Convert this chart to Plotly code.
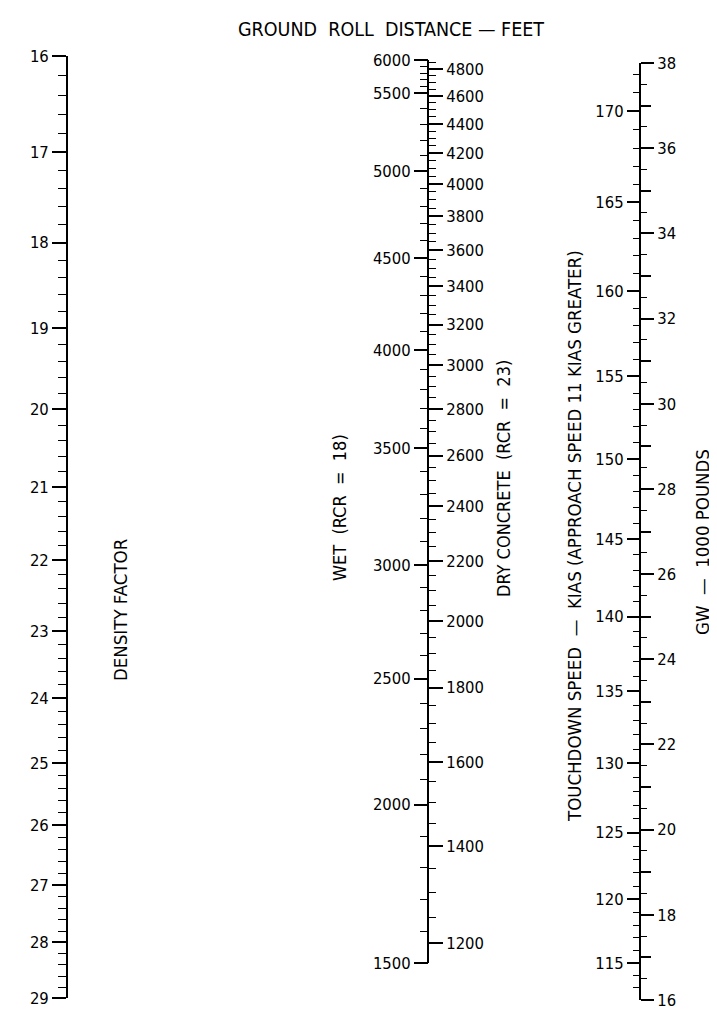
import numpy as np
import plotly.graph_objects as go

W, H = 717, 1010
FONT = "DejaVu Sans Condensed, Liberation Sans Narrow, Arial Narrow, sans-serif"

# ---------------- data (scale calibrations) ----------------
density_labels = list(range(16, 30))                      # density factor
dry_labels = list(range(1200, 4801, 200))                 # dry concrete ground roll, ft
wet_labels = [1500, 2000, 2500, 3000, 3500, 4000, 4500, 5000, 5500, 6000]   # wet ground roll, ft
wet_on_dry = [1163, 1495, 1826, 2185, 2632, 3073, 3556, 4081, 4619, 4869]   # same point on dry scale
gw_labels = list(range(16, 39, 2))                        # gross weight, 1000 lb
speed_labels = list(range(115, 171, 5))                   # touchdown speed, KIAS
speed_per_sqrt_gw = 28.0                                  # KIAS = 28 * sqrt(GW)

# ---------------- derived tick sets ----------------
density_minor = [round(v, 1) for v in np.arange(16, 29.0001, 0.2) if abs(v - round(v)) > 1e-6]
dry_minor = [v for v in range(1200, 4851, 50) if v % 200 != 0]
wet_minor_vals = [v for v in range(1600, 6000, 100) if v % 500 != 0]
wet_minor = list(10 ** np.interp(wet_minor_vals, wet_labels, np.log10(wet_on_dry)))
gw_mid = list(range(17, 38, 2))
gw_minor = [v for v in np.arange(16, 38.001, 0.5) if abs(v - round(v)) > 1e-6]
speed_pos = [(v / speed_per_sqrt_gw) ** 2 for v in speed_labels]
speed_minor = [(v / speed_per_sqrt_gw) ** 2 for v in range(113, 173) if v % 5 != 0]


def dom(top_px, bottom_px):
    return [1 - bottom_px / H, 1 - top_px / H]


LINE = dict(showline=True, linecolor="black", linewidth=1.8, showgrid=False,
            zeroline=False, ticks="outside", tickcolor="black", tickwidth=1.6,
            tickfont=dict(family=FONT, size=16.5, color="black"), automargin=False,
            fixedrange=True)


def minor(vals, ln=8):
    return dict(tickmode="array", tickvals=vals, ticks="outside", ticklen=ln,
                tickwidth=1.4, tickcolor="black", showgrid=False)


fig = go.Figure()
hid = dict(mode="markers", marker=dict(opacity=0), hoverinfo="skip", showlegend=False)
fig.add_trace(go.Scatter(x=[0.5] * len(density_labels), y=density_labels, yaxis="y", **hid))
fig.add_trace(go.Scatter(x=[0.5] * len(dry_labels), y=dry_labels, yaxis="y2", **hid))
fig.add_trace(go.Scatter(x=[0.5] * len(wet_on_dry), y=wet_on_dry, yaxis="y3", **hid))
fig.add_trace(go.Scatter(x=[0.5] * len(gw_labels), y=gw_labels, yaxis="y4", **hid))
fig.add_trace(go.Scatter(x=[0.5] * len(speed_pos), y=speed_pos, yaxis="y5", **hid))
fig.add_trace(go.Scatter(x=[0.5] * len(gw_mid), y=gw_mid, yaxis="y6", **hid))

mid_range = [np.log10(wet_on_dry[0]), np.log10(wet_on_dry[-1])]

fig.update_layout(
    width=W, height=H, margin=dict(l=0, r=0, t=0, b=0),
    paper_bgcolor="white", plot_bgcolor="rgba(0,0,0,0)",
    xaxis=dict(domain=[0, 1], range=[0, 1], visible=False, fixedrange=True),
    yaxis=dict(type="log", range=[np.log10(29), np.log10(16)], domain=dom(48, 990),
               anchor="free", position=59 / W, side="left",
               tickmode="array", tickvals=density_labels, ticktext=[str(v) for v in density_labels],
               ticklen=14, minor=minor(density_minor), **LINE),
    yaxis2=dict(type="log", range=mid_range, domain=dom(52, 955),
                anchor="free", position=420 / W, side="right",
                tickmode="array", tickvals=dry_labels, ticktext=[str(v) for v in dry_labels],
                ticklen=14, minor=minor(dry_minor, 7), **LINE),
    yaxis3=dict(type="log", range=mid_range, overlaying="y2",
                anchor="free", position=420 / W, side="left",
                tickmode="array", tickvals=wet_on_dry, ticktext=[str(v) for v in wet_labels],
                ticklen=14, minor=minor(wet_minor, 8), **{**LINE, "showline": False}),
    yaxis4=dict(type="linear", range=[16, 38], domain=dom(55, 992),
                anchor="free", position=632 / W, side="right",
                tickmode="array", tickvals=gw_labels, ticktext=[str(v) for v in gw_labels],
                ticklen=13, minor=minor(gw_minor, 6), **LINE),
    yaxis5=dict(type="linear", range=[16, 38], overlaying="y4",
                anchor="free", position=632 / W, side="left",
                tickmode="array", tickvals=speed_pos, ticktext=[str(v) for v in speed_labels],
                ticklen=13, minor=minor(speed_minor, 7), **{**LINE, "showline": False}),
    yaxis6=dict(type="linear", range=[16, 38], overlaying="y4",
                anchor="free", position=632 / W, side="right",
                tickmode="array", tickvals=gw_mid, showticklabels=False,
                ticklen=10, **{**LINE, "showline": False}),
)

sp = "\u00a0"
annots = [
    (f"GROUND{sp} ROLL{sp} DISTANCE — FEET", 383, 21, 0, 19.5),
    ("DENSITY FACTOR", 112, 602, -90, 18.5),
    (f"WET{sp} (RCR{sp} ={sp} 18)", 331, 500, -90, 18),
    (f"DRY CONCRETE{sp} (RCR{sp} ={sp} 23)", 496, 471, -90, 18),
    (f"TOUCHDOWN SPEED{sp} —{sp} KIAS (APPROACH SPEED 11 KIAS GREATER)", 566, 528, -90, 18.5),
    (f"GW{sp} —{sp} 1000 POUNDS", 694, 534, -90, 18.5),
]
for text, px, py, ang, sz in annots:
    fig.add_annotation(text=text, x=px / W, y=1 - py / H, xref="paper", yref="paper",
                       showarrow=False, textangle=ang, xanchor="center", yanchor="middle",
                       font=dict(family=FONT, size=sz, color="black"))

fig.write_html("out.html")
